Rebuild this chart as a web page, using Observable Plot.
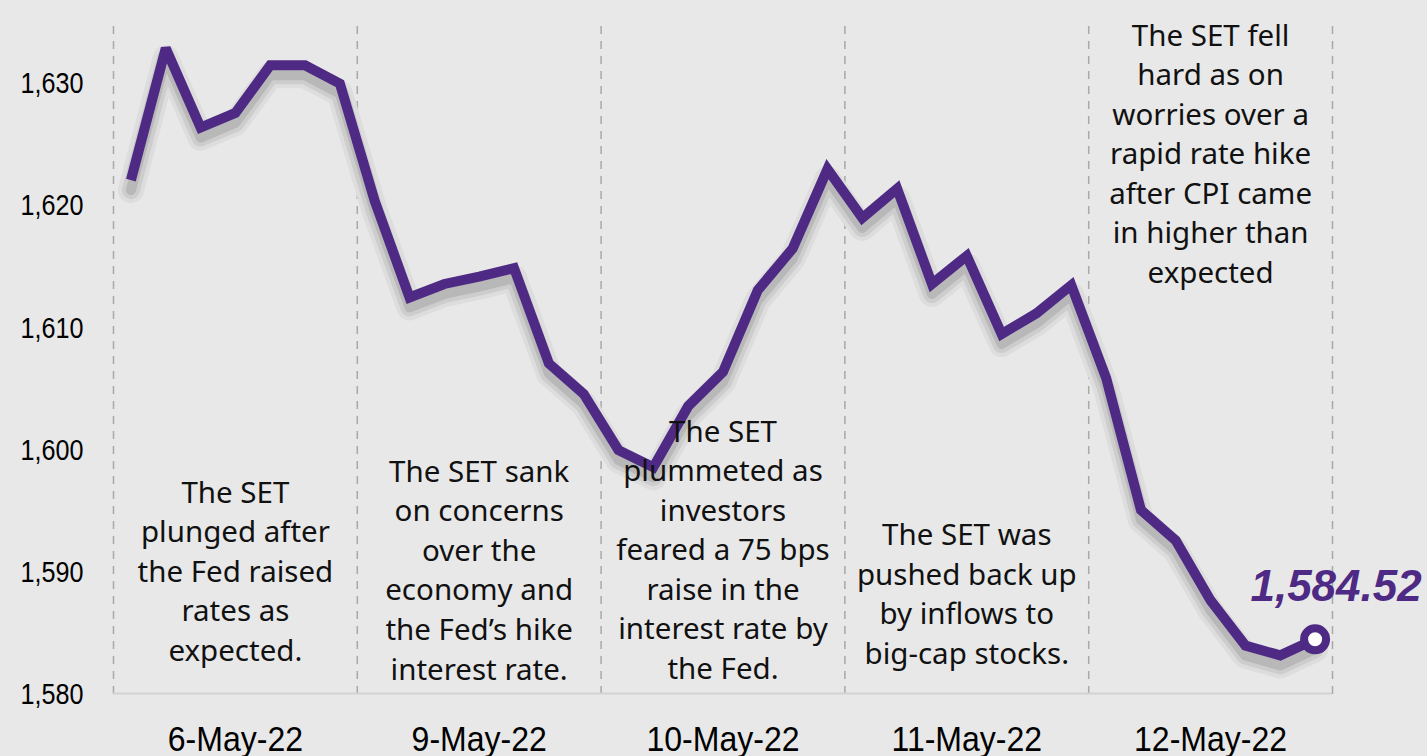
<!DOCTYPE html>
<html>
<head>
<meta charset="utf-8">
<script src="https://cdn.jsdelivr.net/npm/d3@7"></script>
<script src="https://cdn.jsdelivr.net/npm/@observablehq/plot@0.6"></script>
<style>
  html, body { margin: 0; padding: 0; background: #e8e8e8; }
  #chart { width: 1427px; height: 756px; overflow: hidden; }
</style>
</head>
<body>
<div id="chart"></div>
<script>
// ---- data ----
const dates = ["6-May-22", "9-May-22", "10-May-22", "11-May-22", "12-May-22"];
const pointsPerDay = 7;
const setValues = [
  1622.1, 1632.9, 1626.4, 1627.6, 1631.5, 1631.5, 1630.0,
  1620.4, 1612.5, 1613.6, 1614.2, 1614.9, 1607.1, 1604.6,
  1600.0, 1598.6, 1603.6, 1606.4, 1613.1, 1616.5, 1623.0,
  1619.0, 1621.4, 1613.6, 1615.9, 1609.5, 1611.2, 1613.5,
  1605.9, 1595.1, 1592.6, 1587.7, 1584.0, 1583.2, 1584.52
];
const yTicks = [1580, 1590, 1600, 1610, 1620, 1630];
const notes = [
  "The SET\nplunged after\nthe Fed raised\nrates as\nexpected.",
  "The SET sank\non concerns\nover the\neconomy and\nthe Fed\u2019s hike\ninterest rate.",
  "The SET\nplummeted as\ninvestors\nfeared a 75 bps\nraise in the\ninterest rate by\nthe Fed.",
  "The SET was\npushed back up\nby inflows to\nbig-cap stocks.",
  "The SET fell\nhard as on\nworries over a\nrapid rate hike\nafter CPI came\nin higher than\nexpected"
];
const noteTop = [1598.0, 1599.7, 1603.0, 1594.5, 1635.4];

// ---- derived tables ----
const series = setValues.map((v, i) => ({i, v}));
const last = series[series.length - 1];
const dayCenters = dates.map((d, k) => k * pointsPerDay + (pointsPerDay - 1) / 2);
const separators = d3.range(dates.length + 1).map(k => k * pointsPerDay - 0.5);
const noteData = notes.map((t, k) => ({x: dayCenters[k], y: noteTop[k], text: t}));
const xMin = -0.5, xMax = setValues.length - 0.5;
const purple = "#4e2a84";

const plot = Plot.plot({
  width: 1427,
  height: 756,
  marginLeft: 113,
  marginRight: 95,
  marginTop: 22,
  marginBottom: 62,
  style: {background: "#e8e8e8", color: "#000", fontFamily: "'Liberation Sans', Arial, sans-serif"},
  x: {domain: [xMin, xMax], ticks: dayCenters, tickFormat: i => dates[Math.round((i - (pointsPerDay - 1) / 2) / pointsPerDay)], tickSize: 0, tickPadding: 31, label: null},
  y: {domain: [1580, 1635], ticks: yTicks, tickFormat: d3.format(","), tickSize: 0, tickPadding: 30, label: null},
  marks: [
    Plot.ruleX(separators, {y1: 1580, y2: 1635, stroke: "#a8a8a8", strokeWidth: 1.5, strokeDasharray: "8,7"}),
    Plot.ruleY([1580], {x1: xMin, x2: xMax, stroke: "#d2d2d2", strokeWidth: 2, dy: -1}),
    // drop shadow under the index line
    Plot.line(series, {x: "i", y: "v", stroke: "#dddddd", strokeWidth: 26, dy: 10, strokeLinejoin: "round"}),
    Plot.line(series, {x: "i", y: "v", stroke: "#cdcdcd", strokeWidth: 18, dy: 10, strokeLinejoin: "round"}),
    Plot.line(series, {x: "i", y: "v", stroke: "#b8b8b8", strokeWidth: 10, dy: 10, strokeLinejoin: "round"}),
    Plot.line(series, {x: "i", y: "v", stroke: purple, strokeWidth: 10, strokeLinejoin: "miter", strokeMiterlimit: 3, strokeLinecap: "butt"}),
    Plot.text(noteData, {x: "x", y: "y", text: "text", lineAnchor: "top", lineHeight: 1.34, fontSize: 29.5, fontFamily: "'Noto Sans', sans-serif", fill: "#111"}),
    Plot.dot([last], {x: "i", y: "v", r: 11, fill: "white", stroke: purple, strokeWidth: 8}),
    Plot.text([last], {x: "i", y: "v", text: d => d3.format(",.2f")(d.v), dx: 21, dy: -52, fontSize: 44, fontWeight: "bold", fontStyle: "italic", fill: purple, fontFamily: "'Liberation Sans', Arial, sans-serif"})
  ]
});

const svg = d3.select(plot);
// condensed axis fonts
function condense(sel, size, s) {
  sel.attr("font-size", size);
  sel.selectAll("text").each(function() {
    const x = +(this.getAttribute("x") || 0);
    const t = this.getAttribute("transform") || "";
    this.setAttribute("transform", `${t} translate(${x},0) scale(${s},1) translate(${-x},0)`);
  });
}
condense(svg.selectAll('g[aria-label^="y-axis"]'), 30, 0.84);
condense(svg.selectAll('g[aria-label^="x-axis"]'), 36, 0.89);
document.getElementById("chart").appendChild(plot);
</script>
</body>
</html>
